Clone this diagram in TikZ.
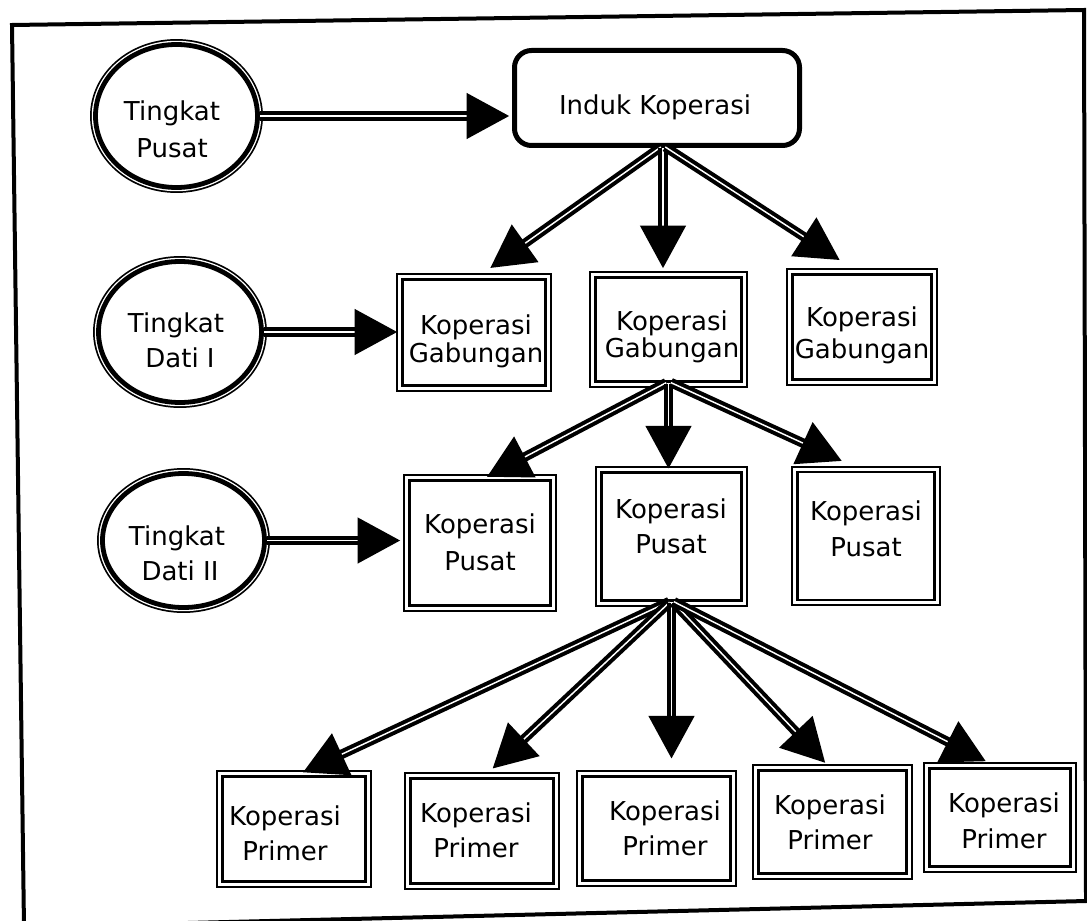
\documentclass[tikz,border=0pt]{standalone}
\usepackage{fontspec}
\setmainfont{DejaVu Sans}
\usetikzlibrary{arrows.meta,shapes.geometric}
\begin{document}
\begin{tikzpicture}[x=0.75pt,y=-0.75pt,
  ring/.style={ellipse, draw, fill=white, line width=3.6pt, inner sep=0pt, outer sep=0pt,
    preaction={draw, line width=8.2pt}, preaction={draw=white, line width=5.6pt}},
  dbox/.style={rectangle, draw, fill=white, line width=2.2pt, inner sep=0pt, outer sep=0pt,
    preaction={draw, line width=9.4pt}, preaction={draw=white, line width=6.2pt}},
  rbox/.style={rectangle, draw, fill=white, line width=3.75pt, rounded corners=12.75pt,
    inner sep=0pt, outer sep=0pt},
  txt/.style={font=\fontsize{19.5pt}{23pt}\selectfont, inner sep=0pt, anchor=base},
  conn/.style={double, double distance=1.1pt, line width=3pt,
    -{Triangle[length=32pt,width=34pt]}, shorten <=2pt},
  frame/.style={line width=3pt, line join=miter}]
\useasboundingbox (0,0) rectangle (1087,920);
\clip (0,0) rectangle (1087,920);
\fill[white] (0,0) rectangle (1087,920);
\draw[frame] (12,25) -- (1084,10) -- (1086,901) -- (24,927) -- cycle;

% level ellipses
\node[ring, minimum width=162*.75pt, minimum height=143*.75pt] (e1) at (176.5,116) {};
\node[txt] (e1a) at (172,121) {Tingkat};
\node[txt] (e1b) at (172,157) {Pusat};
\node[ring, minimum width=163*.75pt, minimum height=141*.75pt] (e2) at (180,332) {};
\node[txt] (e2a) at (176,332) {Tingkat};
\node[txt] (e2b) at (180,367) {Dati I};
\node[ring, minimum width=162*.75pt, minimum height=134*.75pt] (e3) at (183.5,540.5) {};
\node[txt] (e3a) at (177,545) {Tingkat};
\node[txt] (e3b) at (180,580) {Dati II};

% induk
\node[rbox, minimum width=285*.75pt, minimum height=95*.75pt] (ik) at (657,98) {};
\node[txt] (ikt) at (655,115) {Induk Koperasi};

% gabungan
\node[dbox, minimum width=143*.75pt, minimum height=106*.75pt] (g1) at (474,332.5) {};
\node[txt] (g1a) at (476,334) {Koperasi};
\node[txt] (g1b) at (476,362) {Gabungan};
\node[dbox, minimum width=146*.75pt, minimum height=104*.75pt] (g2) at (668.5,329.5) {};
\node[txt] (g2a) at (672,330) {Koperasi};
\node[txt] (g2b) at (672,357) {Gabungan};
\node[dbox, minimum width=139*.75pt, minimum height=105*.75pt] (g3) at (862,327) {};
\node[txt] (g3a) at (862,326) {Koperasi};
\node[txt] (g3b) at (862,358) {Gabungan};

% pusat
\node[dbox, minimum width=141*.75pt, minimum height=125*.75pt] (p1) at (480,543) {};
\node[txt] (p1a) at (480,533) {Koperasi};
\node[txt] (p1b) at (480,570) {Pusat};
\node[dbox, minimum width=140*.75pt, minimum height=128*.75pt] (p2) at (671.5,536.5) {};
\node[txt] (p2a) at (671,518) {Koperasi};
\node[txt] (p2b) at (671,553) {Pusat};
\node[dbox, minimum width=137*.75pt, minimum height=128*.75pt] (p3) at (866,536) {};
\node[txt] (p3a) at (866,520) {Koperasi};
\node[txt] (p3b) at (866,556) {Pusat};

% primer
\node[dbox, minimum width=143*.75pt, minimum height=105*.75pt] (r1) at (294,829) {};
\node[txt] (r1a) at (285,825) {Koperasi};
\node[txt] (r1b) at (285,860) {Primer};
\node[dbox, minimum width=143*.75pt, minimum height=105*.75pt] (r2) at (482,831) {};
\node[txt] (r2a) at (476,822) {Koperasi};
\node[txt] (r2b) at (476,857) {Primer};
\node[dbox, minimum width=148*.75pt, minimum height=104*.75pt] (r3) at (656.5,828.5) {};
\node[txt] (r3a) at (665,820) {Koperasi};
\node[txt] (r3b) at (665,855) {Primer};
\node[dbox, minimum width=148*.75pt, minimum height=103*.75pt] (r4) at (832.5,822) {};
\node[txt] (r4a) at (830,814) {Koperasi};
\node[txt] (r4b) at (830,849) {Primer};
\node[dbox, minimum width=141*.75pt, minimum height=98*.75pt] (r5) at (1000,817.5) {};
\node[txt] (r5a) at (1004,812) {Koperasi};
\node[txt] (r5b) at (1004,848) {Primer};

% level arrows
\draw[conn, shorten >=4pt] (e1.east) -- (e1.east -| ik.west);
\draw[conn, shorten >=4pt] (e2.east) -- (e2.east -| g1.west);
\draw[conn, shorten >=7pt] (e3.east) -- (e3.east -| p1.west);

% induk fan
\draw[conn, shorten >=15pt] ([xshift=4.5pt]ik.south) -- (g1.north);
\draw[conn, shorten >=7pt] ([xshift=4.5pt]ik.south) -- ([xshift=4.5pt]ik.south |- g2.north);
\draw[conn, shorten >=20pt] ([xshift=4.5pt]ik.south) -- (g3.north);

% gabungan fan
\draw[conn, shorten >=6pt] (g2.south) -- (p1.north);
\draw[conn, shorten >=3pt] (g2.south) -- (g2.south |- p2.north);
\draw[conn, shorten >=20pt] (g2.south) -- (p3.north);

% pusat fan
\draw[conn, shorten >=7.5pt] (p2.south) -- (r1.north);
\draw[conn, shorten >=11pt] (p2.south) -- (r2.north);
\draw[conn, shorten >=13.5pt] (p2.south) -- (p2.south |- r3.north);
\draw[conn, shorten >=8pt] (p2.south) -- (r4.north);
\draw[conn, shorten >=12pt] (p2.south) -- (r5.north);
\end{tikzpicture}
\end{document}
